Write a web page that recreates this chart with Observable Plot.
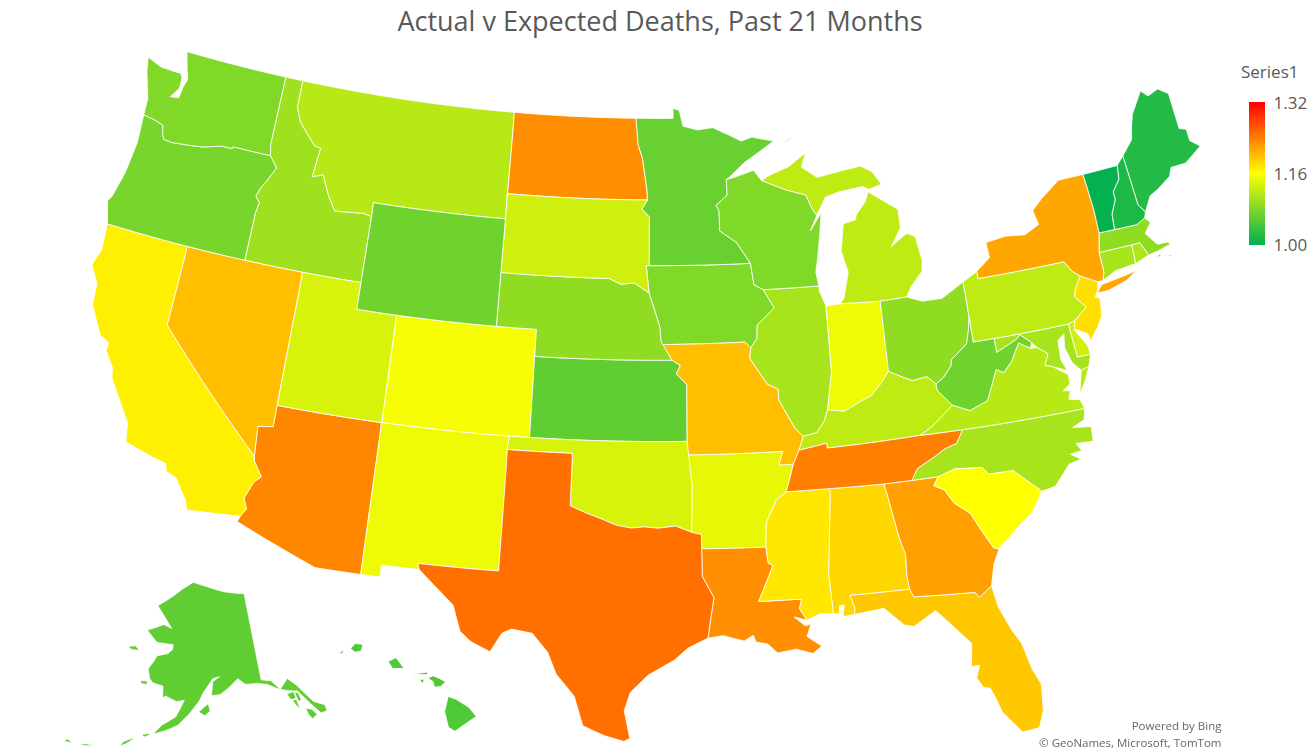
<!DOCTYPE html>
<html><head><meta charset="utf-8">
<script src="https://cdn.jsdelivr.net/npm/d3@7"></script>
<script src="https://cdn.jsdelivr.net/npm/@observablehq/plot@0.6"></script>
<style>
html,body{margin:0;padding:0;background:#fff}
#wrap{position:relative;width:1312px;height:751px;overflow:hidden;font-family:"Open Sans",sans-serif}
#title{height:42px;line-height:41px;text-align:center;font-size:27px;color:#595959;padding-left:8px;box-sizing:border-box}
#legendTitle{position:absolute;left:1241px;top:60px;font-size:17px;color:#595959}
#legend{position:absolute;left:1240px;top:96px}
#map svg{filter:blur(0.4px)}
svg{display:block}
</style></head><body>
<div id="wrap"><div id="title">Actual v Expected Deaths, Past 21 Months</div><div id="map"></div><div id="legendTitle">Series1</div><div id="legend"></div></div>
<script>
const titleText = "Actual v Expected Deaths, Past 21 Months";
const legendTicks = [1.00, 1.16, 1.32];
const legendColors = ["#00b050", "#ffff00", "#ff0000"];
const credits = ["Powered by Bing", "© GeoNames, Microsoft, TomTom"];

const states = ["AL","AK","AZ","AR","CA","CO","CT","DE","DC","FL","GA","HI","ID","IL","IN","IA","KS","KY","LA","ME","MD","MA","MI","MN","MS","MO","MT","NE","NV","NH","NJ","NM","NY","NC","ND","OH","OK","OR","PA","RI","SC","SD","TN","TX","UT","VT","VA","WA","WV","WI","WY"];
const ratios = [1.185,1.06,1.235,1.145,1.17,1.155,1.105,1.13,1.2,1.195,1.22,1.05,1.1,1.105,1.15,1.08,1.06,1.12,1.23,1.022,1.105,1.09,1.12,1.065,1.175,1.2,1.115,1.09,1.2,1.018,1.18,1.15,1.215,1.105,1.23,1.09,1.135,1.075,1.12,1.11,1.16,1.13,1.24,1.25,1.135,1.003,1.115,1.08,1.07,1.08,1.07];

// State outlines as lists of "lon,lat" vertices; each string is one land part.
const outlines = {
WA:["-124.73,48.38 -123.9,48.17 -123.1,48.15 -122.75,48.15 -122.62,48 -122.6,47.6 -122.95,47.2 -122.5,47.25 -122.42,47.7 -122.3,48 -122.5,48.4 -122.76,49 -117.04,49 -117.04,46.42 -116.92,46 -118.98,46 -119,45.93 -119.6,45.92 -120.5,45.72 -121.2,45.65 -122.2,45.57 -122.65,45.6 -122.8,45.8 -122.9,46.1 -123.4,46.2 -124.05,46.27 -124.1,46.9 -124.6,47.9"],
OR:["-124.05,46.27 -123.95,45.2 -124.1,44 -124.4,43 -124.55,42.84 -124.2,42 -117.03,42 -117.03,43.8 -116.95,44.2 -117.2,44.4 -117.05,44.75 -116.85,45 -116.46,45.6 -116.92,46 -118.98,46 -119,45.93 -119.6,45.92 -120.5,45.72 -121.2,45.65 -122.2,45.57 -122.65,45.6 -122.8,45.8 -122.9,46.1 -123.4,46.2"],
CA:["-124.2,42 -120,42 -120,39 -114.63,35 -114.57,34.8 -114.14,34.3 -114.43,34.05 -114.72,33.4 -114.52,33.03 -114.72,32.72 -117.12,32.53 -117.25,32.85 -117.9,33.6 -118.4,33.75 -118.5,34.03 -119.2,34.15 -120.5,34.45 -120.65,35.15 -121.9,36.6 -122,36.96 -122.5,37.5 -122.5,37.8 -123,38 -123.75,39 -123.85,39.8 -124.35,40.4 -124.1,41"],
NV:["-120,42 -114.04,42 -114.04,36.2 -114.74,36.1 -114.63,35 -120,39"],
ID:["-117.04,49 -116.05,49 -116.05,48 -115.7,47.45 -114.7,46.7 -114.35,46.65 -114.5,45.55 -113.95,45.7 -113.45,44.95 -113,44.45 -111.5,44.55 -111.05,44.48 -111.05,42 -117.03,42 -117.03,43.8 -116.95,44.2 -117.2,44.4 -117.05,44.75 -116.85,45 -116.46,45.6 -116.92,46 -117.04,46.42"],
MT:["-116.05,49 -104.05,49 -104.05,45 -111.05,45 -111.05,44.48 -111.5,44.55 -113,44.45 -113.45,44.95 -113.95,45.7 -114.5,45.55 -114.35,46.65 -114.7,46.7 -115.7,47.45 -116.05,48"],
WY:["-111.05,45 -104.05,45 -104.05,41 -111.05,41"],
UT:["-114.04,42 -111.05,42 -111.05,41 -109.05,41 -109.05,37 -114.04,37"],
CO:["-109.05,41 -102.05,41 -102.05,37 -109.05,37"],
AZ:["-114.04,37 -109.05,37 -109.05,31.33 -111.07,31.33 -114.81,32.5 -114.72,32.72 -114.52,33.03 -114.72,33.4 -114.43,34.05 -114.14,34.3 -114.57,34.8 -114.63,35 -114.74,36.1 -114.04,36.2"],
NM:["-109.05,37 -103,37 -103.04,32 -106.62,32 -106.53,31.78 -108.2,31.78 -108.2,31.33 -109.05,31.33"],
ND:["-104.05,49 -97.23,49 -97.1,48 -96.85,47.5 -96.6,46.33 -96.56,45.94 -104.05,45.94"],
SD:["-104.05,45.94 -96.56,45.94 -96.85,45.6 -96.45,45.3 -96.45,43.5 -96.6,43.5 -96.45,42.49 -97.2,42.85 -97.9,42.8 -98.5,43 -104.05,43"],
NE:["-104.05,43 -98.5,43 -97.9,42.8 -97.2,42.85 -96.45,42.49 -96.1,41.7 -95.9,41.2 -95.85,40.7 -95.31,40 -102.05,40 -102.05,41 -104.05,41"],
KS:["-102.05,40 -95.31,40 -94.9,39.8 -95.1,39.5 -94.6,39.1 -94.62,37 -102.05,37"],
OK:["-103,37 -94.62,37 -94.43,35.4 -94.48,33.64 -95.2,33.88 -96,33.8 -96.6,33.85 -97.2,33.8 -97.9,33.9 -98.5,34.1 -99.2,34.3 -100,34.56 -100,36.5 -103.04,36.5"],
TX:["-103.04,36.5 -100,36.5 -100,34.56 -99.2,34.3 -98.5,34.1 -97.9,33.9 -97.2,33.8 -96.6,33.85 -96,33.8 -95.2,33.88 -94.48,33.64 -94.04,33.55 -94.04,33.02 -94.04,32 -93.55,31.2 -93.7,30.5 -93.85,29.7 -94.7,29.35 -95.3,28.9 -96.4,28.35 -97.15,27.7 -97.4,27 -97.15,25.96 -97.4,25.85 -98.2,26.05 -99.1,26.4 -99.5,27.5 -100.3,28.3 -100.7,29.1 -101.4,29.77 -102.3,29.88 -102.7,29.7 -103.15,28.98 -104,29.3 -104.5,29.65 -104.9,30.6 -106,31.4 -106.53,31.78 -106.62,32 -103.04,32"],
MN:["-97.23,49 -95.15,49 -95.15,49.38 -94.8,49.3 -94.6,48.7 -93.8,48.55 -92.95,48.62 -92,48.3 -91.4,48.07 -90.8,48.2 -89.6,48 -91.3,47.25 -92.1,46.75 -92.29,46.66 -92.29,46.07 -92.9,45.7 -92.75,45.5 -92.75,44.75 -91.9,44.3 -91.22,43.5 -96.45,43.5 -96.45,45.3 -96.85,45.6 -96.56,45.94 -96.6,46.33 -96.85,47.5 -97.1,48"],
IA:["-96.6,43.5 -91.22,43.5 -91.1,42.7 -90.64,42.5 -90.15,41.8 -91.05,41.2 -91.1,40.7 -91.42,40.38 -91.7,40.6 -95.77,40.58 -95.85,40.7 -95.9,41.2 -96.1,41.7 -96.45,42.49"],
MO:["-95.77,40.58 -91.7,40.6 -91.42,40.38 -91.5,40 -90.7,39 -90.2,38.8 -90.2,38.4 -89.5,37.3 -89.15,37 -89.4,36.5 -89.7,36 -90.37,36 -90.15,36.5 -94.62,36.5 -94.62,37 -94.6,39.1 -95.1,39.5 -94.9,39.8 -95.31,40"],
AR:["-94.62,36.5 -90.15,36.5 -90.37,36 -89.7,36 -90.1,35 -90.6,34.7 -91.1,33.9 -91.17,33 -94.04,33.02 -94.04,33.55 -94.48,33.64 -94.43,35.4"],
LA:["-94.04,33.02 -91.17,33 -91.1,32.4 -90.9,32.3 -91.6,31 -89.73,31 -89.85,30.65 -89.55,30.2 -90.1,30.35 -89.65,30 -89.4,30.05 -89.6,29.6 -89,29.2 -89.4,28.95 -90.1,29.15 -90.9,29.05 -91.3,29.4 -91.8,29.5 -91.9,29.75 -92.3,29.55 -93.2,29.78 -93.85,29.7 -93.7,30.5 -93.55,31.2 -94.04,32"],
MS:["-90.1,35 -88.2,35 -88.1,34.9 -88.47,31.9 -88.4,30.37 -89,30.4 -89.55,30.2 -89.85,30.65 -89.73,31 -91.6,31 -90.9,32.3 -91.1,32.4 -91.17,33 -91.1,33.9 -90.6,34.7"],
AL:["-88.2,35 -85.6,34.98 -85.18,32.87 -85,32.3 -85.05,31.5 -85,31 -87.6,31 -87.45,30.5 -87.5,30.28 -88,30.23 -87.9,30.65 -88.1,30.65 -88.15,30.35 -88.4,30.37 -88.47,31.9 -88.1,34.9"],
GA:["-85.6,34.98 -84.32,34.99 -83.1,35 -83.35,34.7 -82.9,34.48 -82.55,33.95 -81.9,33.5 -81.4,32.6 -81.1,32.1 -80.87,32.03 -81.2,31.5 -81.45,30.72 -82.05,30.36 -82.2,30.57 -84.86,30.7 -85,31 -85.05,31.5 -85,32.3 -85.18,32.87"],
FL:["-87.6,31 -85,31 -84.86,30.7 -82.2,30.57 -82.05,30.36 -81.45,30.72 -81.3,29.9 -80.9,29 -80.55,28.4 -80.3,27.4 -80.03,26.8 -80.13,25.8 -80.4,25.2 -81.1,25.13 -81.8,26 -82,26.6 -82.15,26.95 -82.4,27 -82.65,27.4 -82.45,27.85 -82.8,27.85 -82.65,28.7 -83.4,29.5 -84,30.1 -85,29.6 -85.4,29.7 -86.2,30.4 -87.5,30.28 -87.45,30.5"],
SC:["-83.35,34.7 -83.1,35 -82.3,35.2 -81.05,35.1 -80.8,34.82 -79.67,34.8 -78.55,33.86 -79.1,33.2 -79.9,32.7 -80.87,32.03 -81.1,32.1 -81.4,32.6 -81.9,33.5 -82.55,33.95 -82.9,34.48"],
NC:["-84.32,34.99 -83.1,35 -82.3,35.2 -81.05,35.1 -80.8,34.82 -79.67,34.8 -78.55,33.86 -77.9,33.95 -77.1,34.65 -76.5,34.75 -76.95,35 -76.4,35.05 -76.6,35.35 -75.8,35.3 -75.75,35.85 -76.6,35.95 -76,36.15 -75.87,36.55 -81.68,36.59 -82.05,36.12 -82.6,36 -83.1,35.77 -84,35.4"],
TN:["-90.1,35 -88.2,35 -85.6,34.98 -84.32,34.99 -84,35.4 -83.1,35.77 -82.6,36 -82.05,36.12 -81.68,36.59 -83.68,36.6 -88.07,36.5 -88.07,36.68 -89.4,36.5 -89.7,36"],
KY:["-89.4,36.5 -88.07,36.68 -88.07,36.5 -83.68,36.6 -83.1,36.85 -81.97,37.54 -82.6,38.17 -82.6,38.4 -83,38.72 -83.7,38.64 -84.23,38.85 -84.8,39.1 -85.2,38.7 -85.75,38.27 -86.3,38.1 -87.1,37.8 -87.9,37.9 -88.1,37.5 -88.5,37.1 -89.15,37"],
VA:["-83.68,36.6 -81.68,36.59 -75.87,36.55 -76,36.9 -76.5,37 -76.35,37.3 -76.7,37.35 -76.3,37.55 -76.3,37.9 -76.95,38.3 -77.3,38.4 -77.05,38.8 -77.5,39.1 -77.83,39.13 -78.35,39.4 -78.85,38.77 -79.3,38.42 -79.65,38.58 -80.3,37.5 -81.2,37.25 -81.97,37.54 -83.1,36.85","-75.95,37.12 -75.65,37.95 -75.25,38.03 -75.6,37.5"],
WV:["-81.97,37.54 -81.2,37.25 -80.3,37.5 -79.65,38.58 -79.3,38.42 -78.85,38.77 -78.35,39.4 -77.83,39.13 -77.72,39.32 -78.2,39.68 -78.45,39.53 -79.48,39.2 -79.48,39.72 -80.52,39.72 -80.52,40.64 -80.65,40.2 -80.85,39.7 -81.7,39.2 -81.75,39 -82.2,38.6 -82.6,38.4 -82.6,38.17"],
MD:["-79.48,39.72 -75.79,39.72 -75.7,38.46 -75.05,38.45 -75.25,38.03 -75.65,37.95 -76,38.3 -76.2,38.9 -76.1,39.4 -76.45,39.2 -76.5,38.5 -76.3,38.05 -76.95,38.3 -77.3,38.4 -77.05,38.8 -77.5,39.1 -77.72,39.32 -78.2,39.68 -78.45,39.53 -79.48,39.2"],
DE:["-75.79,39.72 -75.42,39.8 -75.55,39.45 -75.1,38.8 -75.05,38.45 -75.7,38.46"],
DC:["-77.12,38.93 -77.04,39 -76.91,38.89 -77.04,38.79"],
PA:["-80.52,41.98 -79.76,42.27 -79.76,42 -75.35,42 -75.05,41.6 -74.7,41.36 -75.1,40.9 -75.2,40.65 -74.75,40.2 -75.42,39.8 -75.79,39.72 -80.52,39.72"],
NJ:["-74.7,41.36 -73.9,41 -74,40.7 -74.2,40.48 -73.98,40.4 -74.1,39.75 -74.4,39.4 -74.9,38.93 -74.95,39.2 -75.55,39.5 -75.42,39.8 -74.75,40.2 -75.2,40.65 -75.1,40.9"],
NY:["-79.76,42.27 -79.76,42 -75.35,42 -75.05,41.6 -74.7,41.36 -73.9,41 -73.65,41 -73.5,41.3 -73.5,42.05 -73.27,42.75 -73.25,43.6 -73.35,45 -74.7,45 -75.8,44.45 -76.35,44.1 -76.2,43.55 -77,43.28 -78,43.37 -79.05,43.27 -79,42.7","-74.05,40.6 -73.75,40.87 -72.6,40.98 -71.9,41.07 -72.5,40.8 -73.5,40.6"],
CT:["-73.5,42.05 -71.8,42.02 -71.85,41.32 -72.9,41.25 -73.65,41 -73.5,41.3"],
RI:["-71.8,42.02 -71.38,42.02 -71.12,41.5 -71.85,41.32"],
MA:["-73.5,42.05 -73.27,42.75 -71.3,42.7 -70.82,42.87 -70.6,42.65 -71,42.3 -70.55,41.8 -70,41.78 -70.05,42.05 -69.95,41.67 -70.65,41.55 -71.12,41.5 -71.38,42.02 -71.8,42.02","-70.8,41.35 -70.5,41.45 -70.55,41.35","-70.2,41.3 -69.98,41.28 -70.05,41.22"],
VT:["-73.35,45 -71.5,45.01 -71.6,44.5 -72.05,44.1 -72.05,43.8 -72.4,43.3 -72.46,42.73 -73.27,42.75 -73.25,43.6"],
NH:["-71.5,45.01 -71.08,45.3 -70.98,43.4 -70.7,43.07 -70.82,42.87 -71.3,42.7 -72.46,42.73 -72.4,43.3 -72.05,43.8 -72.05,44.1 -71.6,44.5"],
ME:["-71.08,45.3 -70.4,45.8 -70.25,46.2 -70,46.7 -69.23,47.46 -68.9,47.2 -68.3,47.35 -67.8,47.07 -67.8,45.7 -67.45,45.6 -67.45,45.15 -67,44.85 -68,44.4 -68.8,44.4 -69,44.1 -69.8,43.75 -70.25,43.6 -70.7,43.07 -70.98,43.4"],
OH:["-84.8,39.1 -84.8,41.7 -83.45,41.73 -82.7,41.5 -81.7,41.5 -80.52,41.98 -80.52,40.64 -80.65,40.2 -80.85,39.7 -81.7,39.2 -81.75,39 -82.2,38.6 -82.6,38.4 -83,38.72 -83.7,38.64 -84.23,38.85"],
IN:["-87.53,41.72 -87.2,41.75 -86.82,41.76 -84.8,41.7 -84.8,39.1 -85.2,38.7 -85.75,38.27 -86.3,38.1 -87.1,37.8 -87.9,37.9 -87.55,39.3"],
IL:["-87.53,41.72 -87.8,42.3 -87.8,42.49 -90.64,42.5 -90.15,41.8 -91.05,41.2 -91.1,40.7 -91.42,40.38 -91.5,40 -90.7,39 -90.2,38.8 -90.2,38.4 -89.5,37.3 -89.15,37 -88.5,37.1 -88.1,37.5 -87.9,37.9 -87.55,39.3"],
WI:["-92.29,46.66 -92,46.7 -90.8,46.95 -90.4,46.55 -89.1,46.13 -88.1,45.9 -87.8,45.35 -87.6,45.1 -88,44.55 -87.35,45.2 -87.55,44.3 -87.75,43.5 -87.9,43 -87.8,42.49 -90.64,42.5 -91.1,42.7 -91.22,43.5 -91.9,44.3 -92.75,44.75 -92.75,45.5 -92.9,45.7 -92.29,46.07"],
MI:["-86.82,41.76 -84.8,41.7 -83.45,41.73 -83.15,42.1 -82.5,42.6 -82.42,43 -82.6,43.9 -83,44.07 -83.4,43.9 -83.9,43.65 -83.3,44.3 -83.3,45 -84.75,45.78 -85,45.4 -85.5,45 -85.6,44.8 -86.25,44.7 -86.5,43.7 -86.25,42.9 -86.6,41.95","-90.4,46.55 -89.1,46.13 -88.1,45.9 -87.8,45.35 -87.6,45.1 -87.05,45.75 -86.3,45.9 -85,46 -84.7,45.87 -84,46 -84.4,46.5 -85,46.77 -86.1,46.67 -87.4,46.52 -88.2,46.95 -87.9,47.47 -88.9,47 -89.9,46.75","-89.2,47.85 -88.5,48.15 -88.85,47.95"],
AK:["-141,69.65 -141,60.3 -139,60 -137.5,58.9 -135.5,59.8 -134,58.8 -131.8,56.6 -130,55.9 -130,55.2 -131.2,55.2 -132,56 -133,57 -134.2,58.2 -136,58.5 -138,59 -140,59.7 -142,60 -144.5,60.1 -146,60.8 -148,60 -150,59.3 -151.9,59.2 -151.5,60.7 -150,61.2 -151.5,61 -153.5,59.6 -154.5,58.6 -156.5,57.2 -158.5,56 -160.8,55.3 -163,54.8 -161.5,55.9 -159,56.9 -157.5,58.7 -159,58.5 -161.5,59 -162,58.7 -162.2,60 -164.5,60.2 -165.3,60.6 -166,61.6 -165,62.5 -164.5,63.1 -162,63.5 -161,64 -161,64.5 -165,64.5 -168,65.6 -164,66.5 -161.8,66.2 -163.8,67.2 -166.5,68.4 -163,69.5 -160,70.5 -156.6,71.35 -152,70.85 -147,70.2","-136.4,58.2 -135,58.3 -134.9,57.5 -136,57.5","-135.7,57.4 -134.9,57.4 -134.7,56.3 -135.2,56.7","-134.9,58.2 -134.2,58 -134,57.2 -134.6,57.1","-133.7,56.2 -132.6,55.9 -132,55.2 -133,54.9 -133.5,55.4","-154.5,57.5 -153.3,57.1 -152.2,57.6 -152.6,58.4 -153.5,58","-171.8,63.4 -170,63.7 -168.8,63.3 -170.5,63.2","-167.2,60.2 -165.7,60.3 -165.6,59.9 -166.8,59.9","-166.9,53.9 -165.8,54.1 -166.2,54 -167.5,53.3 -168.5,52.9 -168,53.5","-164.9,54.6 -163.9,54.8 -163.3,54.75 -164.5,54.35","-172.5,52.4 -174,52.05 -175.5,51.9 -174.5,52.2","-178,51.75 -176.5,51.85 -177.5,52.1"],
HI:["-159.78,22.05 -159.6,22.23 -159.3,22.2 -159.35,21.95 -159.6,21.9","-160.25,21.85 -160.05,22 -160.1,21.85","-158.28,21.57 -157.97,21.71 -157.65,21.3 -158.1,21.3","-157.3,21.1 -156.7,21.17 -156.75,21.07 -157.25,21.08","-157.05,20.9 -156.85,20.9 -156.9,20.74","-156.7,20.95 -156.5,21.03 -156.25,20.93 -156,20.8 -156.2,20.63 -156.45,20.6 -156.5,20.8","-155.9,20.25 -155.6,20.15 -155.1,19.85 -154.8,19.5 -155.65,18.95 -155.9,19.1 -156.05,19.7"]
};

const parseRing = s => {
  const pts = s.split(" ").map(p => p.split(",").map(Number));
  const out = [];
  pts.forEach((a, i) => {
    const b = pts[(i + 1) % pts.length];
    const n = Math.ceil(Math.max(Math.abs(b[0] - a[0]), Math.abs(b[1] - a[1])) / 0.5) || 1;
    for (let k = 0; k < n; k++) out.push([a[0] + (b[0] - a[0]) * k / n, a[1] + (b[1] - a[1]) * k / n]);
  });
  out.push(out[0]);
  return out;
};
const features = states.map((id, i) => ({
  type: "Feature", id, properties: {value: ratios[i]},
  geometry: {type: "MultiPolygon", coordinates: outlines[id].map(s => [parseRing(s)])}
}));

const topOffset = 42, S = 1538;
const lower48 = d3.geoConicEqualArea().parallels([29.5, 45.5]).rotate([96, 0]).center([0, 38.7]).scale(S).translate([657.4, 395 - topOffset]);
const alaska = d3.geoConicEqualArea().rotate([154, 0]).center([-2, 58.5]).parallels([55, 65]).scale(0.35 * S).translate([191, 702 - topOffset]);
const hawaii = d3.geoConicEqualArea().rotate([157, 0]).center([-3, 19.9]).parallels([8, 18]).scale(S).translate([344, 705 - topOffset]);
const composite = d3.geoTransform({
  point(lon, lat) {
    const p = (lat > 50 ? alaska : lat < 24 ? hawaii : lower48)([lon, lat]);
    this.stream.point(p[0], p[1]);
  }
});
const colorScale = {type: "linear", domain: [legendTicks[0], legendTicks[1], legendTicks[2]], range: legendColors, interpolate: "rgb"};

document.getElementById("title").textContent = titleText;
document.getElementById("map").append(Plot.plot({
  width: 1312, height: 709, margin: 0,
  projection: composite,
  color: colorScale,
  style: {background: "#fff", fontFamily: "'Open Sans',sans-serif"},
  marks: [
    Plot.geo(features, {fill: d => d.properties.value, stroke: "#fff", strokeWidth: 1, strokeOpacity: 0.85}),
    Plot.text([credits.join("\n")], {frameAnchor: "bottom-right", dx: -91, dy: -5, fontSize: 11.5, fill: "#666", lineHeight: 1.4, textAnchor: "end"})
  ]
}));

const bands = d3.range(legendTicks[0], legendTicks[2], 0.002);
document.getElementById("legend").append(Plot.plot({
  width: 72, height: 158, marginTop: 7, marginBottom: 9, marginLeft: 9, marginRight: 47,
  x: {domain: [0, 1], axis: null},
  y: {domain: [legendTicks[0], legendTicks[2]], ticks: legendTicks, tickSize: 0, tickPadding: 8, tickFormat: ".2f", axis: "right", label: null},
  color: colorScale,
  style: {fontSize: "17px", color: "#595959", fontFamily: "'Open Sans',sans-serif", overflow: "visible"},
  marks: [Plot.rect(bands, {x1: 0, x2: 1, y1: d => d, y2: d => d + 0.003, fill: d => d, shapeRendering: "crispEdges"})]
}));
</script></body></html>
